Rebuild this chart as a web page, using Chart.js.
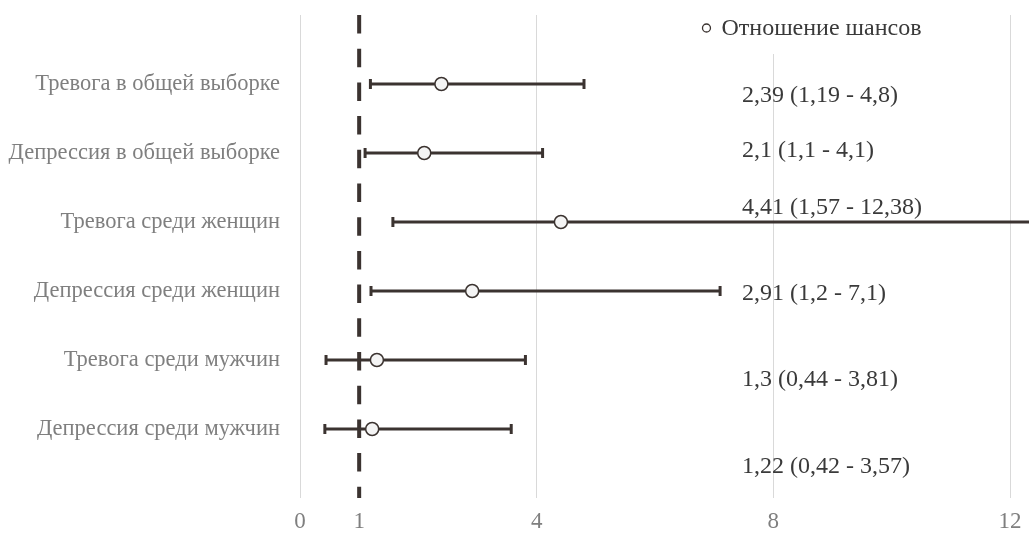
<!DOCTYPE html>
<html>
<head>
<meta charset="utf-8">
<script src="https://cdn.jsdelivr.net/npm/chart.js@4.4.0/dist/chart.umd.min.js"></script>
<style>
  html, body { margin: 0; padding: 0; background: #fff; }
</style>
</head>
<body>
<canvas id="forestPlot" width="1029" height="534"></canvas>
<script>
var groups = [
  "Тревога в общей выборке",
  "Депрессия в общей выборке",
  "Тревога среди женщин",
  "Депрессия среди женщин",
  "Тревога среди мужчин",
  "Депрессия среди мужчин"
];
var oddsRatios = [2.39, 2.1, 4.41, 2.91, 1.3, 1.22];
var lowerCI = [1.19, 1.1, 1.57, 1.2, 0.44, 0.42];
var upperCI = [4.8, 4.1, 12.38, 7.1, 3.81, 3.57];
var ciLabels = [
  "2,39 (1,19 - 4,8)",
  "2,1 (1,1 - 4,1)",
  "4,41 (1,57 - 12,38)",
  "2,91 (1,2 - 7,1)",
  "1,3 (0,44 - 3,81)",
  "1,22 (0,42 - 3,57)"
];
var xTicks = [0, 1, 4, 8, 12];
var legendLabel = "Отношение шансов";

var serif = "'Liberation Serif', 'Times New Roman', serif";
var dark = "#3b3330";

// label placement (Excel-style data labels drift off their rows)
var labelX = 7.47;
var labelShift = [0.17, -0.04, -0.2, 0.04, 0.29, 0.55];

var datasets = [];

datasets.push({
  label: legendLabel,
  data: oddsRatios.map(function(v, i) { return { x: v, y: i + 1 }; }),
  pointRadius: 6.5,
  pointBackgroundColor: "#f4f4f4",
  pointBorderColor: dark,
  pointBorderWidth: 1.5,
  showLine: false,
  order: 0
});

datasets.push({
  type: "line",
  label: "ref",
  data: [{ x: 1, y: 0 }, { x: 1, y: 7 }],
  borderColor: dark,
  borderWidth: 4,
  borderDash: [18.5, 15.2],
  pointRadius: 0,
  order: 1
});

lowerCI.forEach(function(lo, i) {
  datasets.push({
    type: "line",
    label: "ci" + i,
    data: [{ x: lo, y: i + 1 }, { x: upperCI[i], y: i + 1 }],
    borderColor: dark,
    borderWidth: 3,
    pointStyle: "line",
    rotation: 90,
    pointRadius: 5,
    pointBorderWidth: 3,
    pointBorderColor: dark,
    clip: false,
    order: 2
  });
});

var legendAndLabels = {
  id: "legendAndLabels",
  beforeDatasetsDraw: function(chart) {
    var ctx = chart.ctx;
    var xs = chart.scales.x;
    ctx.save();
    ctx.fillStyle = "#fff";
    ctx.fillRect(xs.getPixelForValue(6.7), 0, 240, 54);
    ctx.restore();
  },
  afterDatasetsDraw: function(chart) {
    var ctx = chart.ctx;
    var xs = chart.scales.x;
    var ys = chart.scales.y;
    ctx.save();
    ctx.font = "24px " + serif;
    ctx.fillStyle = "#3a3a3a";
    ctx.textAlign = "left";
    ctx.textBaseline = "middle";
    ciLabels.forEach(function(t, i) {
      ctx.fillText(t, xs.getPixelForValue(labelX), ys.getPixelForValue(i + 1 + labelShift[i]));
    });
    // legend
    var lx = xs.getPixelForValue(6.87);
    var ly = 28;
    ctx.beginPath();
    ctx.arc(lx, ly, 4, 0, Math.PI * 2);
    ctx.fillStyle = "#fff";
    ctx.fill();
    ctx.lineWidth = 1.3;
    ctx.strokeStyle = dark;
    ctx.stroke();
    ctx.fillStyle = "#3a3a3a";
    ctx.fillText(legendLabel, lx + 15, ly + 1);
    ctx.restore();
  }
};

var forestChart = new Chart(document.getElementById("forestPlot"), {
  type: "scatter",
  data: { datasets: datasets },
  options: {
    responsive: false,
    animation: false,
    layout: { padding: { left: 0, right: 19, top: 15, bottom: 0 } },
    plugins: {
      legend: { display: false },
      tooltip: { enabled: false }
    },
    scales: {
      x: {
        type: "linear",
        min: 0,
        max: 12,
        afterBuildTicks: function(scale) {
          scale.ticks = xTicks.map(function(v) { return { value: v }; });
        },
        afterFit: function(scale) {
          scale.height = 36;
          scale.paddingLeft = 0;
          scale.paddingRight = 0;
        },
        grid: {
          drawTicks: false,
          color: function(c) { return c.tick && c.tick.value === 1 ? "rgba(0,0,0,0)" : "#d9d9d9"; },
          lineWidth: 1
        },
        border: { display: false },
        ticks: {
          padding: 10,
          color: "#7f7f7f",
          font: { family: serif, size: 23 }
        }
      },
      y: {
        type: "linear",
        min: 0,
        max: 7,
        reverse: true,
        afterBuildTicks: function(scale) {
          scale.ticks = groups.map(function(g, i) { return { value: i + 1 }; });
        },
        afterFit: function(scale) {
          scale.width = 300;
          scale.paddingTop = 0;
          scale.paddingBottom = 0;
        },
        grid: { display: false, drawTicks: false },
        border: { display: false },
        ticks: {
          padding: 20,
          color: "#7f7f7f",
          font: { family: serif, size: 22.5 },
          callback: function(v) { return groups[v - 1]; }
        }
      }
    }
  },
  plugins: [legendAndLabels]
});
</script>
</body>
</html>
